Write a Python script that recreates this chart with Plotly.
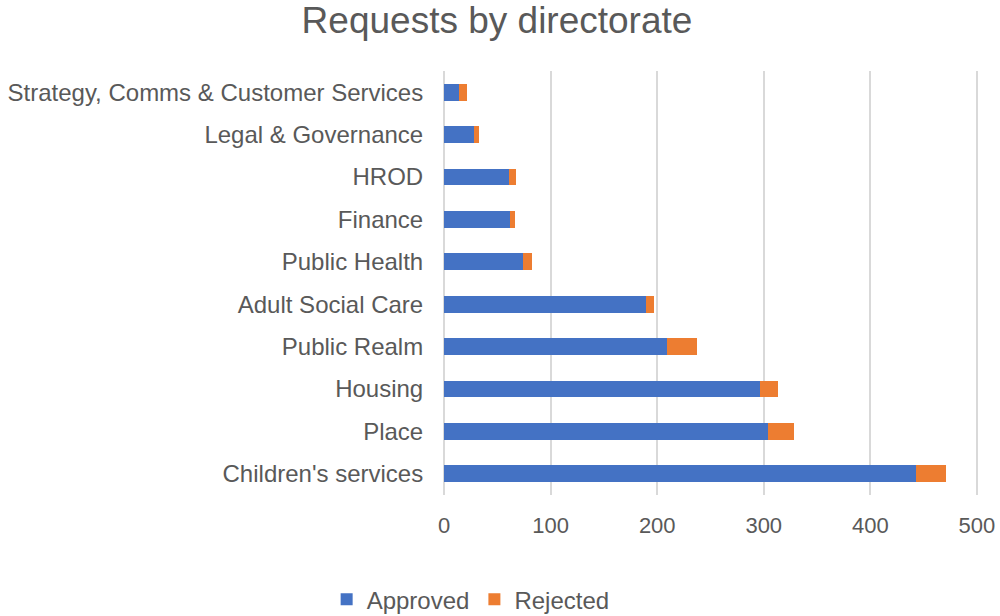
import plotly.graph_objects as go

categories = ["Children's services", "Place", "Housing", "Public Realm", "Adult Social Care",
              "Public Health", "Finance", "HROD", "Legal & Governance",
              "Strategy, Comms & Customer Services"]
approved = [443, 304, 296, 209, 189, 74, 62, 61, 28, 14]
rejected = [28, 24, 17, 28, 8, 8, 4, 6, 5, 7]
x_ticks = [0, 100, 200, 300, 400, 500]

font_family = "Liberation Sans, Arial, sans-serif"
text_col = "#595959"

fig = go.Figure()
fig.add_trace(go.Bar(y=categories, x=approved, orientation="h", name="Approved",
                     marker=dict(color="#4472C4", line=dict(width=0))))
fig.add_trace(go.Bar(y=categories, x=rejected, orientation="h", name="Rejected",
                     marker=dict(color="#ED7D31", line=dict(width=0))))

fig.update_layout(
    width=1000, height=616,
    barmode="stack", bargap=0.6,
    paper_bgcolor="white", plot_bgcolor="white",
    margin=dict(l=441, r=20, t=71, b=121, autoexpand=False),
    title=dict(text="Requests by directorate", x=0.497, xanchor="center", y=0.967, yanchor="middle",
               font=dict(family=font_family, size=37, color=text_col)),
    font=dict(family=font_family, size=22, color=text_col),
    showlegend=True,
    legend=dict(orientation="h", x=0.055, xanchor="center", y=-0.247, yanchor="middle",
                font=dict(size=24, color=text_col), traceorder="normal",
                itemwidth=30),
    xaxis=dict(range=[-3, 503], tickvals=x_ticks, showgrid=True, gridcolor="#d9d9d9",
               gridwidth=1.5, zeroline=False, showline=False,
               ticks="outside", ticklen=11, tickcolor="rgba(0,0,0,0)",
               tickfont=dict(size=22, color=text_col)),
    yaxis=dict(showgrid=False, zeroline=False, showline=False,
               ticks="outside", ticklen=12, tickcolor="rgba(0,0,0,0)",
               tickfont=dict(size=24, color=text_col)),
)

fig.write_html("out.html")
